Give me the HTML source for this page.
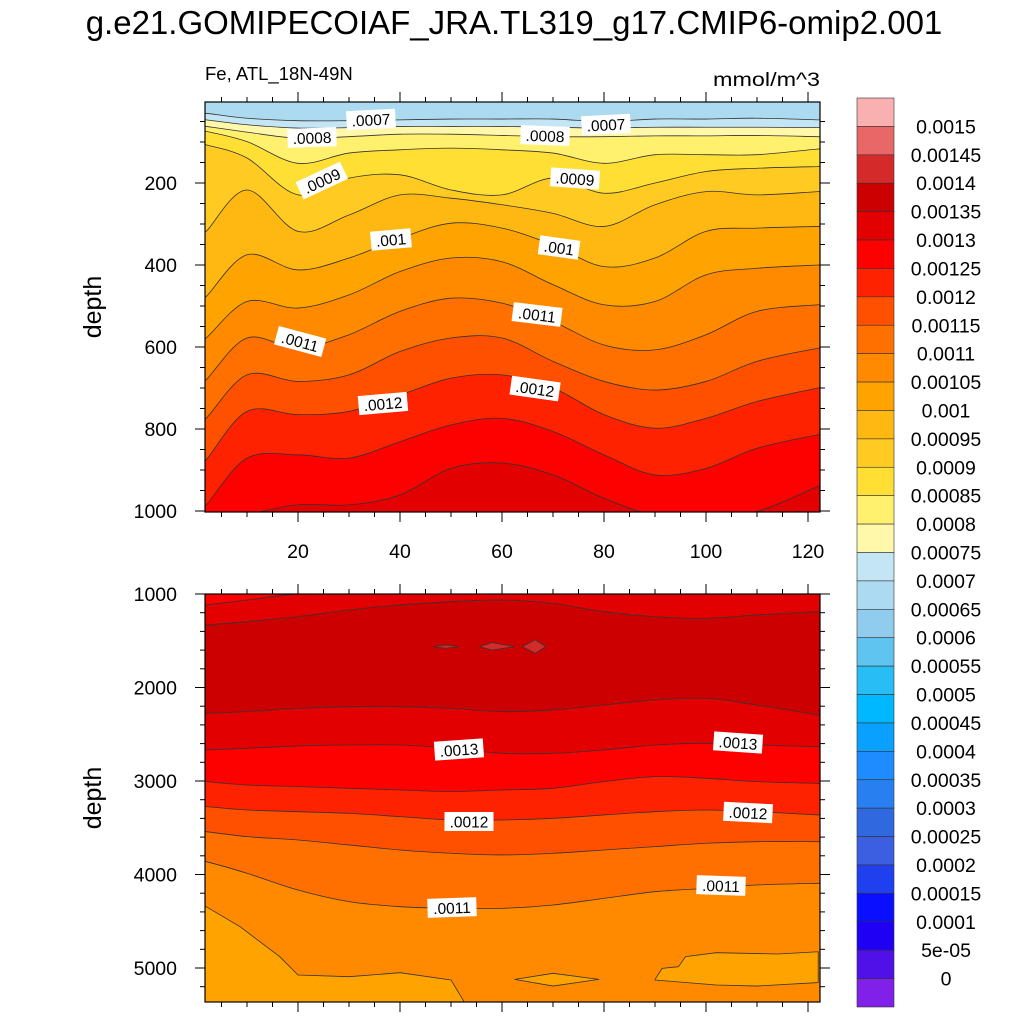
<!DOCTYPE html>
<html><head><meta charset="utf-8"><style>
html,body{margin:0;padding:0;background:#fff;}
svg{display:block;font-family:"Liberation Sans",sans-serif;}
</style></head><body>
<svg id="chart" width="1024" height="1024" viewBox="0 0 1024 1024" xmlns="http://www.w3.org/2000/svg">
<defs>
<clipPath id="clipTop"><rect x="205" y="102" width="615" height="410"/></clipPath>
<clipPath id="clipBot"><rect x="205" y="594" width="615" height="408"/></clipPath>
</defs>
<text x="514" y="34" font-size="33" text-anchor="middle">g.e21.GOMIPECOIAF_JRA.TL319_g17.CMIP6-omip2.001</text>
<text x="205" y="80" font-size="18.5">Fe, ATL_18N-49N</text>
<text x="820" y="86" font-size="19" text-anchor="end" textLength="107" lengthAdjust="spacingAndGlyphs">mmol/m^3</text>
<text transform="translate(101,307) rotate(-90)" font-size="25" text-anchor="middle">depth</text>
<text transform="translate(101,798) rotate(-90)" font-size="25" text-anchor="middle">depth</text>
<g id="topFill" clip-path="url(#clipTop)"></g>
<g id="botFill" clip-path="url(#clipBot)"></g>
<g id="axes"></g>
<g id="labels"></g>
<g id="cbar"></g>
</svg>
<script>
// ---- data ----
const xs = [2,10,20,30,40,50,60,70,80,90,100,110,122];
// top panel: contour depths (m) at xs
const topLevels = [0.0007,0.00075,0.0008,0.00085,0.0009,0.00095,0.001,0.00105,0.0011,0.00115,0.0012,0.00125,0.0013];
const topC0007  = [30,42,48,48,46,44,44,44,50,44,44,42,46];
const topC00075 = [46,58,66,65,62,62,62,64,66,64,64,64,65];
const topC0008  = [62,76,91,87,81,81,84,87,87,85,85,84,87];
const topC00085 = [74,99,152,127,119,115,119,127,152,131,131,131,117];
const topC0009  = [107,139,229,188,180,217,229,188,225,200,172,164,160];
const topC00095 = [318,217,318,278,229,237,253,274,306,253,221,229,221];
const topC001   = [477,375,412,383,335,298,310,351,404,383,318,310,306];
const topC00105 = [578,489,505,473,416,383,392,448,497,489,424,408,400];
const topC0011  = [680,578,603,570,513,481,493,538,595,607,570,513,497];
const topC00115 = [774,668,684,668,611,578,578,635,684,705,684,635,603];
const topC0012  = [875,757,765,757,717,676,668,700,765,798,774,733,700];
const topC00125 = [985,871,863,871,831,790,774,806,863,912,896,847,814];
const topC0013  = [1042,1010,985,985,961,896,883,912,969,1010,1010,1001,940];
const topCurves = [topC0007,topC00075,topC0008,topC00085,topC0009,topC00095,topC001,topC00105,topC0011,topC00115,topC0012,topC00125,topC0013];
// bottom panel: contour depths (m)
const botLevels = [0.0013,0.00135,0.00135,0.0013,0.00125,0.0012,0.00115,0.0011];
const botBandBelow = [0.0013,0.00135,0.0013,0.00125,0.0012,0.00115,0.0011,0.00105];
const botC0013up  = [1117,1064,1000,990,990,990,990,990,990,990,990,990,990];
const botC00135up = [1331,1296,1242,1171,1117,1082,1064,1100,1189,1242,1260,1224,1189];
const botC00135lo = [2276,2258,2223,2205,2205,2223,2258,2240,2187,2133,2116,2187,2294];
const botC0013    = [2668,2650,2625,2615,2615,2650,2704,2704,2668,2615,2597,2615,2633];
const botC00125   = [3007,3043,3060,3078,3096,3114,3096,3078,3007,2953,2971,3007,3025];
const botC0012    = [3274,3310,3328,3346,3381,3417,3417,3399,3363,3328,3310,3328,3363];
const botC00115   = [3542,3595,3631,3684,3738,3773,3791,3773,3738,3702,3666,3649,3649];
const botC0011    = [3863,3987,4166,4290,4344,4362,4362,4326,4255,4184,4148,4112,4094];
const botCurves = [botC0013up,botC00135up,botC00135lo,botC0013,botC00125,botC0012,botC00115,botC0011];
// closed patches [x, depth]
const patchLeftX = [0.8,2,8.6,16.4,20,30,40,50,53,0.8];
const patchLeftD = [4308,4344,4557,4878,5075,5093,5050,5128,5400,5400];
const patchRightX = [90,91.4,94.6,96,102,114,122,122,110,102,90];
const patchRightD = [5122,5004,4986,4878,4836,4850,4826,5156,5193,5182,5128];
const lensX = [62.5,70,79,70];
const lensD = [5122,5057,5122,5193];
const isl1X=[46.5,49,51.5,49], isl1D=[1563,1545,1563,1580];
const isl2X=[55.6,58,62.5,58], isl2D=[1563,1520,1563,1600];
const isl3X=[64,66.5,68.6,66.5], isl3D=[1563,1490,1563,1634];
// colorbar
const cbLabels = ["0.0015","0.00145","0.0014","0.00135","0.0013","0.00125","0.0012","0.00115","0.0011","0.00105","0.001","0.00095","0.0009","0.00085","0.0008","0.00075","0.0007","0.00065","0.0006","0.00055","0.0005","0.00045","0.0004","0.00035","0.0003","0.00025","0.0002","0.00015","0.0001","5e-05","0"];
const cbColors = ["#f9b0b0","#e86868","#d42a2a","#cc0000","#e20000","#fd0000","#ff2200","#ff5000","#ff7000","#ff8a00","#ffa300","#ffb812","#ffcb22","#ffdf34","#fff06e","#fff7aa","#c4e6f4","#acdaf0","#90ccee","#60c4f0","#28bef5","#00b8ff","#0aa0ff","#1e8cff","#2880f0","#3068e0","#3c5ee0","#2040f0","#0a10ff","#2000f5","#5010e8","#8020e8"];
const topXTicks = [20,40,60,80,100,120];
const topYTicks = [200,400,600,800,1000];
const botYTicks = [1000,2000,3000,4000,5000];

// ---- scales ----
const X = x => 196 + 5.1*x;
const Yt = d => 101 + d*0.41;
const Yb = d => 594 + (d-1000)*0.0935;
const NS="http://www.w3.org/2000/svg";
function mk(tag, attrs, parent){const e=document.createElementNS(NS,tag);for(const k in attrs)e.setAttribute(k,attrs[k]);parent.appendChild(e);return e;}
function colorFor(v){const k=Math.round((0.0015-v)/0.00005);return cbColors[Math.max(0,Math.min(31,k))];}
function linePts(arr,Y){return xs.map((x,i)=>[X(x),Y(arr[i])]);}
function smooth(p){
  // Catmull-Rom to cubic bezier
  let d='M'+p[0][0]+','+p[0][1];
  for(let i=0;i<p.length-1;i++){
    const p0=p[Math.max(0,i-1)],p1=p[i],p2=p[i+1],p3=p[Math.min(p.length-1,i+2)];
    const c1=[p1[0]+(p2[0]-p0[0])/6,p1[1]+(p2[1]-p0[1])/6];
    const c2=[p2[0]-(p3[0]-p1[0])/6,p2[1]-(p3[1]-p1[1])/6];
    d+=' C'+c1.join(',')+' '+c2.join(',')+' '+p2.join(',');
  }
  return d;
}
function extend(pts){return [[200,pts[0][1]],...pts,[825,pts[pts.length-1][1]]];}

function drawPanel(g, curves, bandVals, baseColor, Y, bottomY){
  mk('rect',{x:200,y:Y===Yt?95:590,width:630,height:420,fill:baseColor},g);
  curves.forEach((c,i)=>{
    const p=extend(linePts(c,Y));
    const d=smooth(p)+' L825,'+bottomY+' L200,'+bottomY+' Z';
    const e=mk('path',{d:d,fill:colorFor(bandVals[i]),stroke:'none'},g);
    
    
  });
  curves.forEach(c=>{
    const p=extend(linePts(c,Y));
    const e=mk('path',{d:smooth(p),fill:'none',stroke:'#333',"stroke-width":0.8},g);
    
    
  });
}
const topG=document.getElementById('topFill');
drawPanel(topG, topCurves, topLevels, colorFor(0.00065), Yt, 520);
const botG=document.getElementById('botFill');
drawPanel(botG, botCurves, botBandBelow, colorFor(0.00125), Yb, 1010);
function patch(px,pd,v,g){
  const e=mk('polygon',{points:px.map((x,i)=>X(x)+','+Yb(pd[i])).join(' '),fill:colorFor(v),stroke:'#333',"stroke-width":0.8,"stroke-linejoin":"round"},g);
  
  
}
patch(patchLeftX,patchLeftD,0.001,botG);
patch(patchRightX,patchRightD,0.001,botG);
patch(lensX,lensD,0.001,botG);
patch(isl1X,isl1D,0.0014,botG);
patch(isl2X,isl2D,0.0014,botG);
patch(isl3X,isl3D,0.0014,botG);

// ---- axes ----
const ax=document.getElementById('axes');
function frame(y0,y1,name){
  const r=mk('rect',{x:205,y:y0,width:615,height:y1-y0,fill:'none',stroke:'#000',"stroke-width":1.2},ax);
  
  
}
frame(102,512,'top-plot-frame');frame(594,1002,'bottom-plot-frame');
function tick(x1,y1,x2,y2){mk('line',{x1,y1,x2,y2,stroke:'#000',"stroke-width":1},ax);}
for(let x=5;x<=120;x+=5){
  const maj=x%20===0, L=maj?10:5, px=X(x);
  tick(px,102,px,102-L);tick(px,512,px,512+L);
  tick(px,594,px,594-L);tick(px,1002,px,1002+L);
}
for(let d=50;d<=1000;d+=50){
  const maj=d%200===0,L=maj?10:5,py=Yt(d);
  tick(205,py,205-L,py);tick(820,py,820+L,py);
}
for(let d=1000;d<=5200;d+=200){
  const maj=d%1000===0,L=maj?10:5,py=Yb(d);
  tick(205,py,205-L,py);tick(820,py,820+L,py);
}
topXTicks.forEach(v=>{
  const t=mk('text',{x:X(v),y:558,"font-size":19.5,"text-anchor":"middle"},ax);t.textContent=v;
  
  
});
topYTicks.forEach(v=>{
  const t=mk('text',{x:177,y:Yt(v)+7,"font-size":19.5,"text-anchor":"end"},ax);t.textContent=v;
  
  
});
botYTicks.forEach(v=>{
  const t=mk('text',{x:177,y:Yb(v)+7,"font-size":19.5,"text-anchor":"end"},ax);t.textContent=v;
  
  
});

// ---- contour labels ----
const lbText=[".0007",".0008",".0007",".0008",".0009",".0009",".001",".001",".0011",".0011",".0012",".0012",".0013",".0013",".0012",".0012",".0011",".0011"];
const lb=document.getElementById('labels');
const lbPos=[[371,120,-3],[312,138,-2],[606,125,-3],[545,136,2],[322,181,-25],[575,179,4],[391,240,-5],[559,248,8],[537,315,7],[300,342,15],[383,404,-5],[535,389,8],[459,750,-4],[738,743,4],[469,822,0],[748,813,3],[452,908,-2],[721,886,2]];
lbPos.forEach((p,i)=>{
  const g=mk('g',{transform:`translate(${p[0]},${p[1]}) rotate(${p[2]})`},lb);
  
  
  const w=lbText[i].length*8.6+6;
  mk('rect',{x:-w/2,y:-10,width:w,height:19,fill:'#fff'},g);
  const t=mk('text',{x:0,y:5.5,"font-size":15.5,"text-anchor":"middle"},g);t.textContent=lbText[i];
});

// ---- colorbar ----
const cb=document.getElementById('cbar');
const cbTop=98, cbH=(1007-98)/32;
cbColors.forEach((c,k)=>{
  const r=mk('rect',{x:857,y:cbTop+k*cbH,width:37,height:cbH,fill:c,stroke:'#333',"stroke-width":0.6},cb);
  
  
});
cbLabels.forEach((l,j)=>{
  const t=mk('text',{x:946,y:cbTop+(j+1)*cbH+7,"font-size":19.5,"text-anchor":"middle"},cb);t.textContent=l;
  
  
});
</script>
</body></html>
